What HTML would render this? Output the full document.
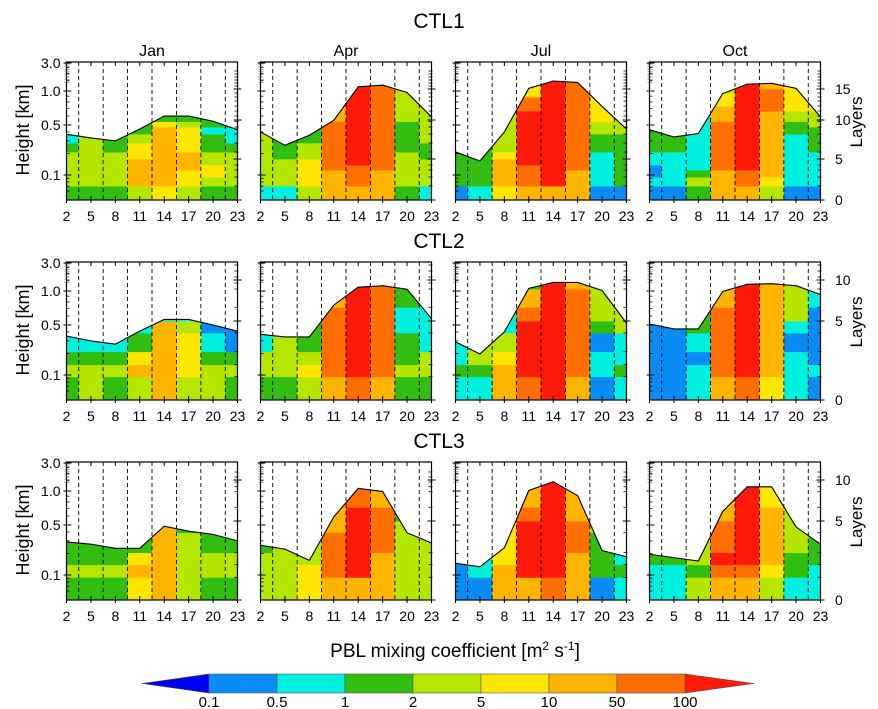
<!DOCTYPE html>
<html><head><meta charset="utf-8"><style>
html,body{margin:0;padding:0;background:#fff;}
svg{display:block;font-family:"Liberation Sans",Arial,sans-serif;}
</style></head><body>
<svg id="chart" width="878" height="709" viewBox="0 0 878 709" xmlns="http://www.w3.org/2000/svg"></svg>
<script>
// ---- data ----
const hours = [2,5,8,11,14,17,20,23];
const months = ['Jan','Apr','Jul','Oct'];
const runs = ['CTL1','CTL2','CTL3'];
const legendTicks = ['0.1','0.5','1','2','5','10','50','100'];
const heightTicks = [3.0,1.0,0.5,0.1];
const heightTickLabels = ['3.0','1.0','0.5','0.1'];
// colour class per layer (bottom-up), one string per hour column
const cellsCTL1 = [
 ["34444432","34444444","3444443","466665543","56666666653","45566655543","3455443323","3444443221"],
 ["24444444","2444433","45555443","666777777766655","6777888888888888888","6667777777777777777","3444443333444444","24444334444"],
 ["133333","23333","566665444","6777888888887775","68888888888888888888","6667777777777777777","1222223344555","1333333344"],
 ["12112233","12222233","34322222","66677777776665554","6778888888888888888","4566666666667777766","1222222233445555","1222223334445"]
];
const cellsCTL2 = [
 ["3432","4432","3432","46532","666662","455542","44321","3431"],
 ["3442","3444","4543","67777765","78888888","677777776","3433223","34422"],
 ["2322","234","66542","78888763","888888888","67777776","1221344","23224"],
 ["111112","111113","22123","67777765","78888888","56666666","22212444","1211112"]
];
const cellsCTL3 = [
 ["3433","3433","3433","5653","66666","44443","34433","3443"],
 ["4443","4444","554","677766","68888877","66677766","444443","44443"],
 ["111","12","665","6888876","78888888","66677666","13334","232"],
 ["223","223","434","6787766","678888887","456666553","23344","2233"]
];
// PBL height [km] at each hour
const pblCTL1 = [
 [0.37,0.33,0.30,0.44,0.60,0.60,0.54,0.43],
 [0.40,0.26,0.36,0.55,1.18,1.26,0.97,0.59],
 [0.21,0.157,0.40,1.11,1.48,1.40,0.73,0.44],
 [0.43,0.34,0.38,0.95,1.31,1.35,1.11,0.59]
];
const pblCTL2 = [
 [0.35,0.30,0.27,0.41,0.56,0.56,0.50,0.41],
 [0.37,0.34,0.34,0.75,1.16,1.23,1.07,0.57],
 [0.29,0.197,0.40,1.11,1.40,1.40,1.02,0.52],
 [0.51,0.44,0.44,0.99,1.30,1.33,1.23,0.93]
];
const pblCTL3 = [
 [0.29,0.27,0.236,0.236,0.48,0.41,0.37,0.30],
 [0.26,0.23,0.16,0.59,1.11,0.99,0.39,0.28],
 [0.146,0.13,0.24,1.02,1.44,0.91,0.22,0.18],
 [0.195,0.175,0.157,0.66,1.18,1.18,0.47,0.27]
];
const layerTicksCTL1 = [0,5,10,15];
const layerTicksCTL2 = [0,5,10];
const layerTicksCTL3 = [0,5,10];

// ---- layout / axes ----
const colors = ['#0000f0','#0a8cf5','#00f0e0','#32be10','#b4e600','#ffe600','#ffb400','#ff6e00','#ff1a0a'];
const panelLefts = [66.5,260.5,455.5,649.5];
const panelW = 171, panelH = 138;
const rowTops = [62,262,462];
const layerEdges = [
 [0,14,23,30,35,41,48,57,66,73,78.5,84,89,94,99,103,107,111,114,117,120,123,126,129],
 [0,23.3,35.3,48.3,67,79,92.7,111,117,123,129,135],
 [0,22.7,35.3,47.3,67.3,79,92.7,108.3,113.3,118,123,128]
];
const layerLabelPos = [
 {0:0,5:41,10:80,15:111},
 {0:0,5:79,10:120},
 {0:0,5:79,10:120}
];
const kmPts = [[3,1],[1,29],[0.5,63],[0.1,113],[0.045,138]];
function kmY(k){
  const l=Math.log10(k);
  for(let i=0;i<kmPts.length-1;i++){
    const a=Math.log10(kmPts[i][0]), b=Math.log10(kmPts[i+1][0]);
    if(l<=a && l>=b || i===kmPts.length-2){
      return kmPts[i][1]+(a-l)/(a-b)*(kmPts[i+1][1]-kmPts[i][1]);
    }
  }
  return kmPts[0][1];
}
function hx(left,h){return left+(h-2)/21*panelW;}

const NS='http://www.w3.org/2000/svg';
const svg=document.getElementById('chart');
function mk(tag,attrs,parent){const e=document.createElementNS(NS,tag);for(const k in attrs)e.setAttribute(k,attrs[k]);(parent||svg).appendChild(e);return e;}
function txt(s,attrs,parent){const e=mk('text',attrs,parent);e.textContent=s;return e;}

const defs=mk('defs',{});
const allCells=[cellsCTL1,cellsCTL2,cellsCTL3];
const allPbl=[pblCTL1,pblCTL2,pblCTL3];
const allLayerTicks=[layerTicksCTL1,layerTicksCTL2,layerTicksCTL3];
const titleY=[28,248,448];

runs.forEach((run,r)=>{
  const top=rowTops[r], bottom=top+panelH;
  const t=txt(run,{x:439,y:titleY[r],'font-size':21,'text-anchor':'middle',fill:'#000'});
  
  
  const yl=txt('Height [km]',{x:0,y:0,'font-size':18,'text-anchor':'middle',transform:`translate(29,${top+68}) rotate(-90)`});
  
  
  const ly=txt('Layers',{x:0,y:0,'font-size':17,'text-anchor':'middle',transform:`translate(862,${top+60}) rotate(-90)`});
  
  
  const edges=layerEdges[r];
  months.forEach((m,mi)=>{
    const left=panelLefts[mi];
    const g=mk('g',{});
    
    
    if(r===0){
      const mt=txt(m,{x:left+panelW/2,y:56,'font-size':16,'text-anchor':'middle'},g);
      
      
    }
    const pbl=allPbl[r][mi];
    const pts=hours.map((h,i)=>[hx(left,h),top+kmY(pbl[i])]);
    const cid='clip'+r+mi;
    const cp=mk('clipPath',{id:cid},defs);
    mk('polygon',{points:`${left},${bottom} `+pts.map(p=>p.join(',')).join(' ')+` ${left+panelW},${bottom}`},cp);
    const cg=mk('g',{'clip-path':`url(#${cid})`},g);
    const cols=allCells[r][mi];
    hours.forEach((h,ci)=>{
      const x0=Math.max(left,hx(left,h-1.5)), x1=Math.min(left+panelW,hx(left,h+1.5));
      const s=cols[ci];
      for(let k=0;k<s.length;k++){
        const yb=bottom-edges[k];
        const yt=(k===s.length-1)?top:bottom-(edges[k+1]!==undefined?edges[k+1]:panelH);
        const rc=mk('rect',{x:x0,y:yt,width:x1-x0+0.4,height:yb-yt+0.4,fill:colors[+s[k]]},cg);
        
        
      }
    });
    const pl=mk('polyline',{points:pts.map(p=>p.join(',')).join(' '),fill:'none',stroke:'#000','stroke-width':1.1},g);
    
    
    for(let b=3.5;b<23;b+=3){
      const x=hx(left,b);
      mk('line',{x1:x,y1:top,x2:x,y2:bottom,stroke:'#000','stroke-width':0.9,'stroke-dasharray':'4,3'},g);
    }
    const fr=mk('rect',{x:left,y:top,width:panelW,height:panelH,fill:'none',stroke:'#000','stroke-width':1.2},g);
    
    
    hours.forEach(h=>{
      const x=hx(left,h);
      mk('line',{x1:x,y1:bottom,x2:x,y2:bottom-4,stroke:'#000'},g);
      mk('line',{x1:x,y1:top,x2:x,y2:top+4,stroke:'#000'},g);
      mk('line',{x1:x,y1:bottom,x2:x,y2:bottom+3,stroke:'#000'},g);
      const xl=txt(String(h),{x:x,y:bottom+21,'font-size':14,'text-anchor':'middle'},g);
      
      
    });
    heightTicks.forEach((k,i)=>{
      const y=top+kmY(k);
      mk('line',{x1:left-3,y1:y,x2:left+5,y2:y,stroke:'#000'},g);
      if(mi===0){
        const l=txt(heightTickLabels[i],{x:left-6,y:y+5,'font-size':14,'text-anchor':'end'},g);
        
        
      }
    });
    [0.06,0.07,0.08,0.09,0.2,0.3,0.4,0.6,0.7,0.8,0.9,1.5,2,2.5].forEach(k=>{
      const y=top+kmY(k);
      mk('line',{x1:left,y1:y,x2:left+3,y2:y,stroke:'#000','stroke-width':0.8},g);
    });
    for(let j=0;j<8;j++){const y=top+2+j*2.6;mk('line',{x1:left-2,y1:y,x2:left+3,y2:y,stroke:'#555','stroke-width':0.6},g);}
    edges.forEach(e=>{
      mk('line',{x1:left+panelW-3,y1:bottom-e,x2:left+panelW+1,y2:bottom-e,stroke:'#000','stroke-width':0.8},g);
    });
    allLayerTicks[r].forEach(v=>{
      const y=bottom-layerLabelPos[r][v];
      mk('line',{x1:left+panelW-4,y1:y,x2:left+panelW+4,y2:y,stroke:'#000'},g);
      if(mi===3){
        const l=txt(String(v),{x:835,y:y+5,'font-size':14},g);
        
        
      }
    });
  });
});

// ---- legend ----
const lg=mk('g',{});


const lt=mk('text',{x:455,y:657,'font-size':19,'text-anchor':'middle'},lg);


lt.innerHTML='PBL mixing  coefficient [m<tspan dy="-7" font-size="12">2</tspan><tspan dy="7">  s</tspan><tspan dy="-7" font-size="12">-1</tspan><tspan dy="7">]</tspan>';
const barL=209, barR=685, barT=674, barB=693, segW=(barR-barL)/7;
const lo=mk('polygon',{points:`142,${(barT+barB)/2} ${barL},${barT} ${barL},${barB}`,fill:colors[0],stroke:'#555','stroke-width':0.6},lg);


for(let i=1;i<=7;i++){
  const r=mk('rect',{x:barL+(i-1)*segW,y:barT,width:segW,height:barB-barT,fill:colors[i],stroke:'#555','stroke-width':0.6},lg);
  
  
}
const hi=mk('polygon',{points:`${barR},${barT} 754,${(barT+barB)/2} ${barR},${barB}`,fill:colors[8],stroke:'#555','stroke-width':0.6},lg);


legendTicks.forEach((s,i)=>{
  const l=txt(s,{x:barL+i*segW,y:707,'font-size':15,'text-anchor':'middle'},lg);
  
  
});
</script>
</body></html>
